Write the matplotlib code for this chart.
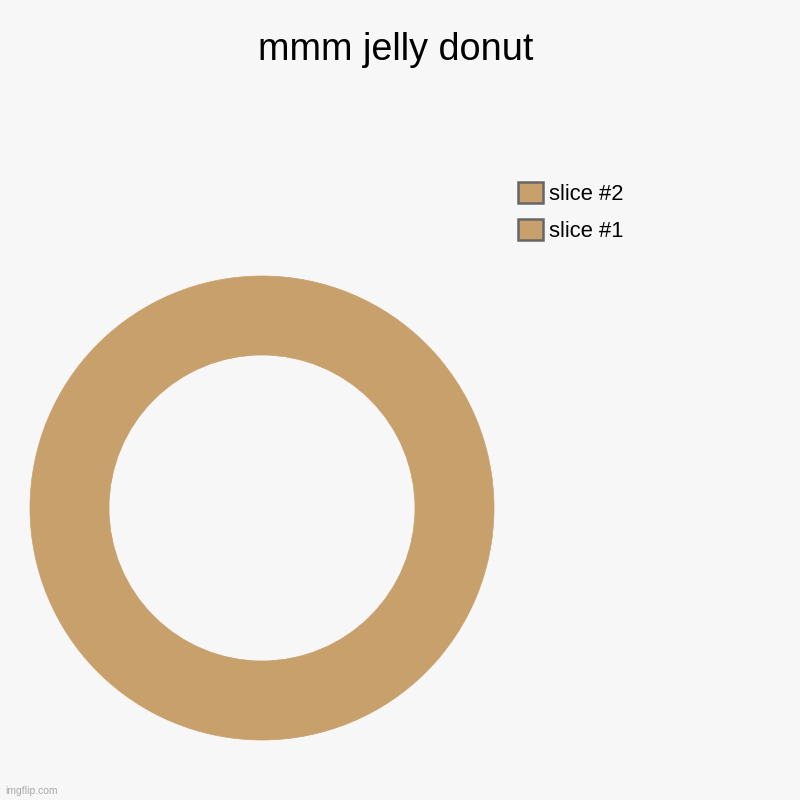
import matplotlib
matplotlib.use('Agg')
import matplotlib.pyplot as plt
from matplotlib.patches import Patch

# 数据
labels = ['slice #1', 'slice #2']
values = [1, 1]
colors = ['#c8a06c', '#c8a06c']
title = 'mmm jelly donut'

plt.rcParams['font.family'] = ['Liberation Sans', 'DejaVu Sans']

fig = plt.figure(figsize=(8, 8), dpi=100, facecolor='#f7f7f7')

# 甜甜圈: 中心(262, 508), 外半径232px
ax = fig.add_axes([(262 - 232) / 800, (292 - 232) / 800, 464 / 800, 464 / 800])
ax.set_facecolor('#f7f7f7')
ax.pie(values, colors=colors, startangle=90, counterclock=False, radius=1,
       wedgeprops=dict(width=79 / 232, edgecolor=colors[0], linewidth=0.5))
ax.set_xlim(-1, 1)
ax.set_ylim(-1, 1)
ax.set_aspect('equal')
ax.axis('off')

fig.text(0.494, 0.937, title, ha='center', va='center', fontsize=27.2, color='#000000')

# 图例 (倒序)
handles = [Patch(facecolor=c, edgecolor='#666666', linewidth=1.8, label=l)
           for l, c in zip(labels, colors)][::-1]
fig.legend(handles=handles, loc='upper left', bbox_to_anchor=(0.648, 0.773),
           frameon=False, fontsize=15.8, borderpad=0, borderaxespad=0,
           handlelength=1.1, handleheight=1.15, labelspacing=0.62,
           handletextpad=0.3)

fig.text(0.006, 0.008, 'imgflip.com', fontsize=7.5, color='#aaaaaa')

fig.savefig('out.png', dpi=100, facecolor=fig.get_facecolor())
